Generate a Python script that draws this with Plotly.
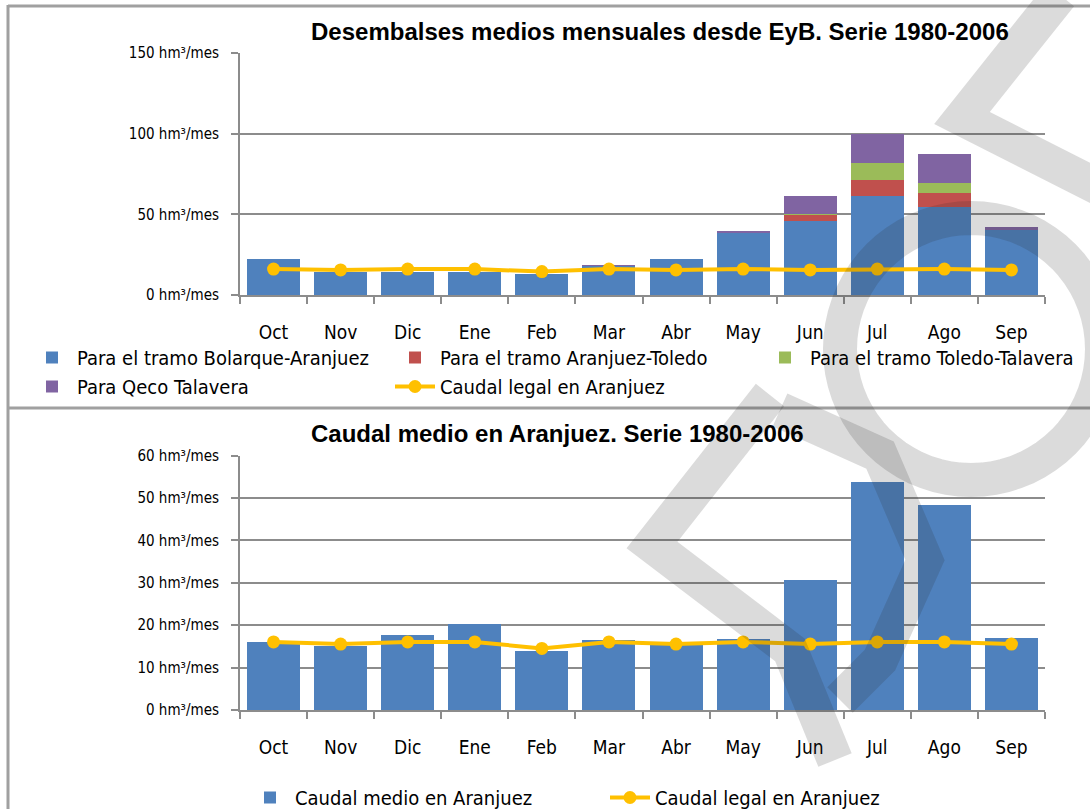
import math
import plotly.graph_objects as go

months = ["Oct", "Nov", "Dic", "Ene", "Feb", "Mar", "Abr", "May", "Jun", "Jul", "Ago", "Sep"]

# Top chart: stacked releases (hm3/mes)
bolarque_aranjuez = [22.4, 14.5, 14.5, 14.5, 13.1, 18.0, 22.4, 38.7, 46.1, 61.4, 54.4, 40.3]
aranjuez_toledo = [0, 0, 0, 0, 0, 0, 0, 0, 3.6, 9.8, 9.1, 0.3]
toledo_talavera = [0, 0, 0, 0, 0, 0, 0, 0, 0.3, 10.7, 6.2, 0]
qeco_talavera = [0, 0, 0, 0, 0, 0.3, 0, 1.2, 11.5, 17.8, 17.6, 1.5]
caudal_legal = [16.07, 15.55, 16.07, 16.07, 14.52, 16.07, 15.55, 16.07, 15.55, 16.07, 16.07, 15.55]

# Bottom chart
caudal_medio = [16.0, 15.2, 17.7, 20.2, 14.0, 16.4, 15.3, 16.8, 30.6, 53.8, 48.4, 16.9]

BLUE = "#4F81BD"
RED = "#C0504D"
GREEN = "#9BBB59"
PURPLE = "#8064A2"
YELLOW = "#FFC000"
GRID = "#8C8C8C"
NARROW = "Liberation Sans Narrow, Arial Narrow, DejaVu Sans Condensed, sans-serif"
WM = "rgba(40,40,40,0.17)"

W, H = 1090, 809


def px(x):
    return x / W


def py(y):
    return 1 - y / H


fig = go.Figure()

top = dict(xaxis="x", yaxis="y")
fig.add_trace(go.Bar(x=months, y=bolarque_aranjuez, name="Para el tramo Bolarque-Aranjuez",
                     marker=dict(color=BLUE, line=dict(width=0)), legend="legend", **top))
fig.add_trace(go.Bar(x=months, y=aranjuez_toledo, name="Para el tramo Aranjuez-Toledo",
                     marker=dict(color=RED, line=dict(width=0)), legend="legend3", **top))
fig.add_trace(go.Bar(x=months, y=toledo_talavera, name="Para el tramo Toledo-Talavera",
                     marker=dict(color=GREEN, line=dict(width=0)), legend="legend4", **top))
fig.add_trace(go.Bar(x=months, y=qeco_talavera, name="Para Qeco Talavera",
                     marker=dict(color=PURPLE, line=dict(width=0)), legend="legend", **top))
fig.add_trace(go.Scatter(x=months, y=caudal_legal, name="Caudal legal en Aranjuez",
                         mode="lines+markers", line=dict(color=YELLOW, width=4),
                         marker=dict(color=YELLOW, size=13), legend="legend3", **top))

fig.add_trace(go.Bar(x=months, y=caudal_medio, name="Caudal medio en Aranjuez",
                     marker=dict(color=BLUE, line=dict(width=0)),
                     xaxis="x2", yaxis="y2", legend="legend2"))
fig.add_trace(go.Scatter(x=months, y=caudal_legal, name="Caudal legal en Aranjuez",
                         mode="lines+markers", line=dict(color=YELLOW, width=4),
                         marker=dict(color=YELLOW, size=13),
                         xaxis="x2", yaxis="y2", legend="legend2"))

xdom = [px(240), px(1045)]
xaxis_common = dict(
    type="category", domain=xdom, range=[-0.5, len(months) - 0.5],
    showgrid=False, showline=True, linecolor=GRID, linewidth=2,
    ticks="outside", tickson="boundaries", ticklen=7, tickcolor=GRID, tickwidth=2,
    tickfont=dict(family=NARROW, size=19, color="#000"), ticklabelstandoff=19,
    fixedrange=True,
)
yaxis_common = dict(
    showgrid=True, gridcolor=GRID, gridwidth=2, showline=True, linecolor=GRID, linewidth=2,
    ticks="outside", ticklen=7, tickcolor=GRID, tickwidth=2, zeroline=False,
    ticksuffix=" hm³/mes", tickfont=dict(family=NARROW, size=15, color="#000"),
    ticklabelstandoff=9, fixedrange=True,
)


def poly_path(points):
    return "M " + " L ".join(f"{px(x):.5f},{py(y):.5f}" for x, y in points)


def ring_path(cx, cy, r, n=72):
    pts = [(cx + r * math.cos(2 * math.pi * i / n), cy + r * math.sin(2 * math.pi * i / n))
           for i in range(n)]
    return poly_path(pts) + " Z"


wm_strokes = [
    # letter corner (top right)
    [(1060, -5), (962, 118), (1100, 188)],
    # letter "D" (bottom middle)
    [(770, 395), (652, 545), (790, 650), (835, 760)],
    [(780, 410), (880, 455), (925, 560), (880, 660), (840, 700)],
]

shapes = [
    dict(type="line", xref="paper", yref="paper", x0=px(8), x1=1, y0=py(6), y1=py(6),
         line=dict(color="#A0A0A0", width=3)),
    dict(type="line", xref="paper", yref="paper", x0=px(8), x1=px(8), y0=py(5), y1=0,
         line=dict(color="#A0A0A0", width=3)),
    dict(type="line", xref="paper", yref="paper", x0=px(8), x1=1, y0=py(408), y1=py(408),
         line=dict(color="#A0A0A0", width=3)),
    dict(type="path", xref="paper", yref="paper", path=ring_path(971, 349, 131),
         line=dict(color=WM, width=34), layer="above"),
]
for st in wm_strokes:
    shapes.append(dict(type="path", xref="paper", yref="paper", path=poly_path(st),
                       line=dict(color=WM, width=36), layer="above"))

leg_font = dict(family=NARROW, size=20, color="#000")
leg_common = dict(orientation="v", xanchor="left", yanchor="top", font=leg_font,
                  traceorder="normal", itemwidth=40, bgcolor="rgba(0,0,0,0)",
                  tracegroupgap=0)

fig.update_layout(
    width=W, height=H, margin=dict(l=0, r=0, t=0, b=0, autoexpand=False),
    paper_bgcolor="white", plot_bgcolor="white",
    barmode="stack", bargap=0.21,
    showlegend=True,
    xaxis=dict(anchor="y", **xaxis_common),
    yaxis=dict(anchor="x", domain=[py(295), py(53)], range=[0, 150], dtick=50, **yaxis_common),
    xaxis2=dict(anchor="y2", **xaxis_common),
    yaxis2=dict(anchor="x2", domain=[py(710), py(455.7)], range=[0, 60], dtick=10, **yaxis_common),
    legend=dict(x=px(27), y=py(338), **leg_common),
    legend3=dict(x=px(390), y=py(338), **leg_common),
    legend4=dict(x=px(760), y=py(338), **leg_common),
    legend2=dict(orientation="h", x=px(245), y=py(778), xanchor="left", yanchor="top",
                 font=leg_font, traceorder="normal",
                 entrywidth=305, entrywidthmode="pixels", itemwidth=40,
                 bgcolor="rgba(0,0,0,0)"),
    annotations=[
        dict(text="<b>Desembalses medios mensuales desde EyB. Serie 1980-2006</b>",
             x=px(660), y=py(31), xref="paper", yref="paper", showarrow=False,
             xanchor="center", yanchor="middle",
             font=dict(family="Liberation Sans, Arial, sans-serif", size=24, color="#000")),
        dict(text="<b>Caudal medio en Aranjuez. Serie 1980-2006</b>",
             x=px(557), y=py(433), xref="paper", yref="paper", showarrow=False,
             xanchor="center", yanchor="middle",
             font=dict(family="Liberation Sans, Arial, sans-serif", size=24, color="#000")),
    ],
    shapes=shapes,
)

fig.write_html("out.html", config={"displayModeBar": False},
               post_script="document.body.style.margin='0';document.body.style.padding='0';")
